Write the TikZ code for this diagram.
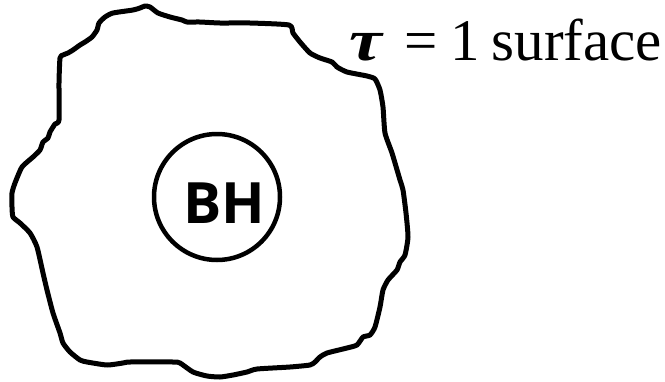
\documentclass[tikz,border=0pt]{standalone}
\usepackage{graphicx}
\usepackage{fontspec}
\setmainfont{Liberation Serif}
\newfontfamily\bhfont{Open Sans}
\begin{document}
\begin{tikzpicture}[x=1pt,y=-1pt,
  outline/.style={line width=5pt, line join=round, line cap=round},
  bhcircle/.style={circle, draw, line width=4.5pt, minimum size=126pt, inner sep=0pt},
  lbl/.style={anchor=base west, inner sep=0pt, font=\fontsize{59}{70}\selectfont}]
\useasboundingbox (0,0) rectangle (665,381);
\draw[outline] plot[smooth cycle, tension=0.35] coordinates {
(145,6) (150,7) (158,13) (170,17) (182,20) (187,22) (200,22) (220,23) (250,23) (289,25)
(293,33) (300,42) (310,53) (320,58) (332,62) (337,67) (347,72) (367,76) (375,79)
(380,90) (383,107) (385,133) (392,153) (400,180) (403,190) (406,213) (408,237)
(405,255) (400,262) (397,270) (388,280) (383,290) (380,307) (375,327) (370,335)
(363,337) (357,345) (347,348) (327,353) (320,357) (315,362) (310,365) (290,367)
(257,369) (247,372) (233,375) (220,377) (207,376) (193,372) (180,363) (173,362)
(130,362) (123,363) (107,365) (87,362) (80,360) (70,352) (63,343) (60,333)
(53,313) (47,290) (43,273) (37,247) (30,233) (20,223) (13,217) (12,207) (12,193)
(15,183) (22,167) (33,157) (40,150) (43,142) (48,138) (50,132) (55,124) (59,120)
(59,83) (60,58) (63,55) (68,53) (73,50) (80,45) (85,42) (92,37) (97,30) (99,23)
(105,17) (113,13) (133,10) (140,8)};
\node[bhcircle] (bh) at (217,197) {};
\node[font=\bhfont\bfseries\fontsize{57}{64}\selectfont, anchor=base] (bhl) at (224,223) {BH};
\node[lbl] (tau) at (349,60) {\scalebox{1.25}[1]{\bfseries\itshape τ}\hspace{0.38em}=\hspace{0.22em}1\hspace{0.2em}surface};
\end{tikzpicture}
\end{document}
